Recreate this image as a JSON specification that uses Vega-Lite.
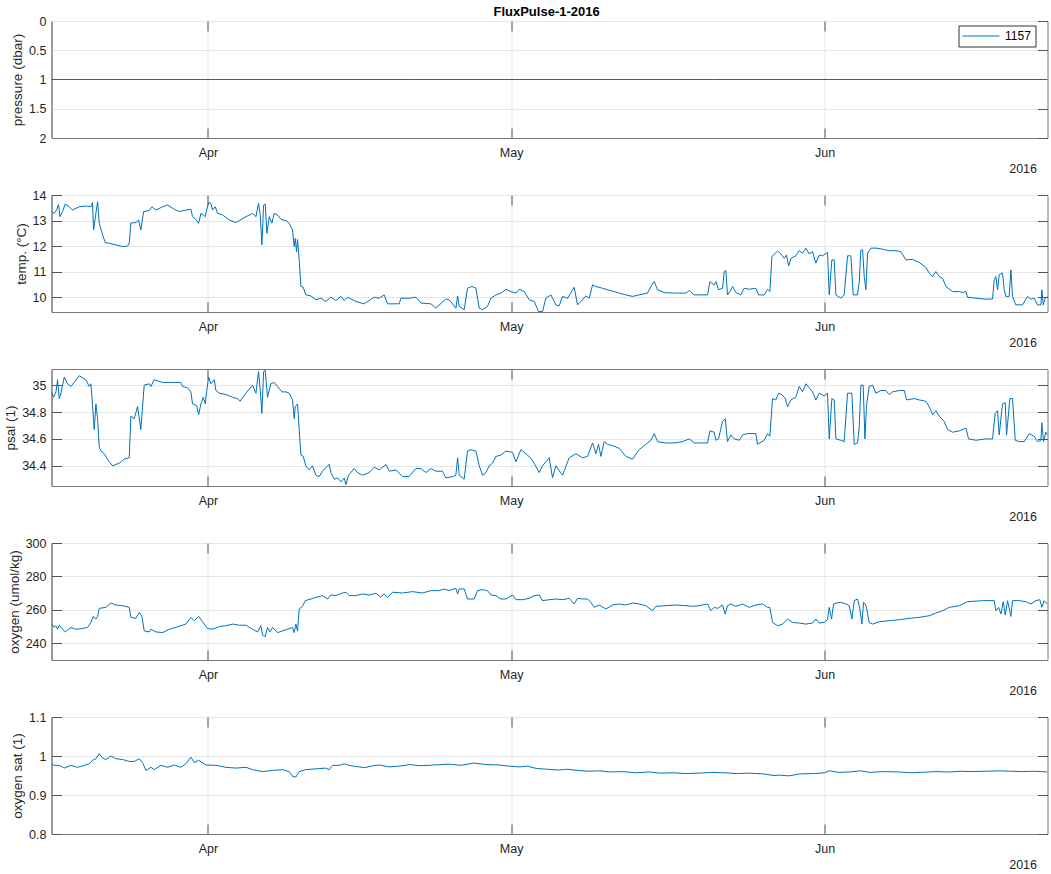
{
  "$schema": "https://vega.github.io/schema/vega-lite/v6.json",
  "background": "white",
  "padding": {"left": 2.5, "top": 5, "right": 3, "bottom": 5},
  "title": {"text": "FluxPulse-1-2016", "anchor": "middle", "fontSize": 13, "fontWeight": "bold", "color": "#000000", "font": "Liberation Sans", "offset": -4, "dx": 20},
  "config": {
    "font": "Liberation Sans",
    "view": {"stroke": "#7a7a7a", "strokeWidth": 1},
    "axis": {"labelFont": "Liberation Sans", "labelFontSize": 12.5, "labelColor": "#262626", "titleFont": "Liberation Sans", "titleFontSize": 13.5, "titleFontWeight": "normal", "titleColor": "#262626", "domainColor": "#7a7a7a", "tickColor": "#555555", "gridColor": "#e6e6e6", "gridOpacity": 1, "tickSize": -10},
    "axisBottom": {"labelPadding": 18, "grid": true, "titleAnchor": "end", "titleAlign": "right", "titleX": 985, "titleY": 30, "titleBaseline": "middle", "titleFontSize": 12.5},
    "axisLeft": {"labelPadding": 15.5, "grid": true, "titlePadding": 4},
    "axisTop": {"labels": false, "grid": false, "domain": false},
    "axisRight": {"labels": false, "grid": false, "domain": false}
  },
  "datasets": {
    "pres": [
      {"d": -15.47, "v": 1},
      {"d": 20, "v": 1},
      {"d": 50, "v": 1},
      {"d": 83.05, "v": 1}
    ],
    "sensor": [
      {"d": 0, "v": 1, "sensor": "1157"}
    ],
    "temp": [
      {"d": -15.46, "v": 13.35}, {"d": -15.20, "v": 13.28}, {"d": -14.97, "v": 13.41}, {"d": -14.77, "v": 13.63}, {"d": -14.64, "v": 13.15}, {"d": -14.38, "v": 13.35}, {"d": -14.11, "v": 13.65}, {"d": -13.72, "v": 13.54}, {"d": -13.39, "v": 13.41}, {"d": -12.73, "v": 13.54}, {"d": -12.07, "v": 13.57}, {"d": -11.57, "v": 13.54}, {"d": -11.41, "v": 13.70}, {"d": -11.31, "v": 12.63}, {"d": -11.08, "v": 13.28}, {"d": -10.91, "v": 13.74}, {"d": -10.75, "v": 12.90}, {"d": -10.42, "v": 12.44}, {"d": -10.15, "v": 12.14}, {"d": -9.76, "v": 12.11}, {"d": -9.10, "v": 12.05}, {"d": -8.44, "v": 11.98}, {"d": -7.95, "v": 12.00}, {"d": -7.78, "v": 12.11}, {"d": -7.62, "v": 12.90}, {"d": -7.12, "v": 12.92}, {"d": -6.86, "v": 13.02}, {"d": -6.63, "v": 12.63}, {"d": -6.36, "v": 13.35}, {"d": -5.80, "v": 13.39}, {"d": -5.54, "v": 13.54}, {"d": -5.14, "v": 13.41}, {"d": -4.48, "v": 13.54}, {"d": -3.99, "v": 13.61}, {"d": -3.49, "v": 13.48}, {"d": -2.84, "v": 13.35}, {"d": -2.18, "v": 13.41}, {"d": -1.68, "v": 13.44}, {"d": -1.52, "v": 13.15}, {"d": -1.19, "v": 13.05}, {"d": -0.92, "v": 12.89}, {"d": -0.69, "v": 13.28}, {"d": -0.46, "v": 13.22}, {"d": -0.26, "v": 13.15}, {"d": -0.13, "v": 13.41}, {"d": 0.07, "v": 13.70}, {"d": 0.30, "v": 13.67}, {"d": 0.46, "v": 13.41}, {"d": 0.73, "v": 13.54}, {"d": 0.96, "v": 13.28}, {"d": 1.45, "v": 13.22}, {"d": 2.11, "v": 13.02}, {"d": 2.77, "v": 12.92}, {"d": 3.10, "v": 13.00}, {"d": 3.76, "v": 13.15}, {"d": 4.42, "v": 13.28}, {"d": 4.75, "v": 13.15}, {"d": 5.01, "v": 13.67}, {"d": 5.18, "v": 13.22}, {"d": 5.34, "v": 12.05}, {"d": 5.51, "v": 13.60}, {"d": 5.67, "v": 13.65}, {"d": 5.84, "v": 12.50}, {"d": 6.07, "v": 13.15}, {"d": 6.33, "v": 12.90}, {"d": 6.56, "v": 13.28}, {"d": 6.89, "v": 13.22}, {"d": 7.22, "v": 13.05}, {"d": 7.72, "v": 13.00}, {"d": 8.04, "v": 12.89}, {"d": 8.37, "v": 12.63}, {"d": 8.54, "v": 11.98}, {"d": 8.64, "v": 12.30}, {"d": 8.77, "v": 11.78}, {"d": 8.87, "v": 12.26}, {"d": 9.03, "v": 11.46}, {"d": 9.20, "v": 10.42}, {"d": 9.43, "v": 10.39}, {"d": 9.69, "v": 10.09}, {"d": 10.19, "v": 10.05}, {"d": 10.68, "v": 9.90}, {"d": 11.18, "v": 9.96}, {"d": 11.67, "v": 9.83}, {"d": 12.17, "v": 10.00}, {"d": 12.66, "v": 9.87}, {"d": 13.16, "v": 10.03}, {"d": 13.49, "v": 9.87}, {"d": 13.81, "v": 10.00},
      {"d": 14.64, "v": 9.83}, {"d": 15.46, "v": 9.74}, {"d": 16.45, "v": 10.00}, {"d": 16.95, "v": 9.96}, {"d": 17.44, "v": 10.09}, {"d": 17.77, "v": 9.74}, {"d": 18.93, "v": 9.74}, {"d": 19.09, "v": 9.96}, {"d": 19.91, "v": 9.96}, {"d": 20.57, "v": 10.00}, {"d": 21.07, "v": 9.77}, {"d": 22.06, "v": 9.74}, {"d": 22.55, "v": 9.57}, {"d": 23.54, "v": 9.93}, {"d": 23.87, "v": 9.90}, {"d": 24.53, "v": 9.57}, {"d": 24.70, "v": 10.05}, {"d": 24.86, "v": 9.64}, {"d": 25.35, "v": 9.51}, {"d": 25.68, "v": 10.35}, {"d": 26.11, "v": 10.42}, {"d": 26.51, "v": 10.35}, {"d": 26.84, "v": 9.57}, {"d": 27.17, "v": 9.51}, {"d": 27.66, "v": 9.64}, {"d": 27.99, "v": 9.96}, {"d": 28.49, "v": 10.09}, {"d": 28.98, "v": 10.16}, {"d": 29.48, "v": 10.31}, {"d": 29.97, "v": 10.22}, {"d": 30.47, "v": 10.16}, {"d": 30.79, "v": 10.31}, {"d": 31.29, "v": 10.22}, {"d": 31.78, "v": 9.90}, {"d": 32.28, "v": 9.83}, {"d": 32.71, "v": 9.44}, {"d": 33.10, "v": 9.44}, {"d": 33.43, "v": 9.96}, {"d": 33.93, "v": 10.09}, {"d": 34.42, "v": 9.70}, {"d": 34.75, "v": 9.66}, {"d": 35.08, "v": 10.03}, {"d": 35.58, "v": 9.96}, {"d": 35.91, "v": 10.18}, {"d": 36.23, "v": 10.39}, {"d": 36.56, "v": 9.70}, {"d": 36.89, "v": 9.83}, {"d": 37.39, "v": 10.05}, {"d": 37.72, "v": 9.96}, {"d": 38.05, "v": 10.48}, {"d": 38.38, "v": 10.42}, {"d": 39.04, "v": 10.35}, {"d": 39.53, "v": 10.29}, {"d": 40.19, "v": 10.22}, {"d": 40.69, "v": 10.16}, {"d": 41.35, "v": 10.09}, {"d": 42.00, "v": 10.03}, {"d": 42.66, "v": 10.09}, {"d": 43.49, "v": 10.16}, {"d": 43.82, "v": 10.42}, {"d": 44.15, "v": 10.61}, {"d": 44.48, "v": 10.29}, {"d": 45.14, "v": 10.18}, {"d": 45.96, "v": 10.16}, {"d": 46.62, "v": 10.16}, {"d": 47.28, "v": 10.16}, {"d": 47.61, "v": 10.26}, {"d": 48.10, "v": 10.09},
      {"d": 48.60, "v": 10.09}, {"d": 49.42, "v": 10.09}, {"d": 49.66, "v": 10.61}, {"d": 50.08, "v": 10.48}, {"d": 50.25, "v": 10.61}, {"d": 50.51, "v": 10.29}, {"d": 50.91, "v": 10.35}, {"d": 51.07, "v": 11.00}, {"d": 51.24, "v": 11.04}, {"d": 51.40, "v": 10.09}, {"d": 51.73, "v": 10.29}, {"d": 51.90, "v": 10.42}, {"d": 52.23, "v": 10.18}, {"d": 52.72, "v": 10.09}, {"d": 53.05, "v": 10.35}, {"d": 53.55, "v": 10.31}, {"d": 54.20, "v": 10.35}, {"d": 54.47, "v": 10.09}, {"d": 55.03, "v": 10.09}, {"d": 55.36, "v": 10.31}, {"d": 55.59, "v": 10.22}, {"d": 55.79, "v": 11.59}, {"d": 56.35, "v": 11.81}, {"d": 56.68, "v": 11.69}, {"d": 57.01, "v": 11.52}, {"d": 57.24, "v": 11.65}, {"d": 57.44, "v": 11.22}, {"d": 57.67, "v": 11.52}, {"d": 58.16, "v": 11.62}, {"d": 58.49, "v": 11.82}, {"d": 58.82, "v": 11.72}, {"d": 59.15, "v": 11.92}, {"d": 59.48, "v": 11.69}, {"d": 59.81, "v": 11.78}, {"d": 60.14, "v": 11.33}, {"d": 60.47, "v": 11.65}, {"d": 60.80, "v": 11.62}, {"d": 61.29, "v": 11.75}, {"d": 61.46, "v": 10.09}, {"d": 61.72, "v": 11.46}, {"d": 61.95, "v": 11.46}, {"d": 62.12, "v": 10.09}, {"d": 62.61, "v": 9.96}, {"d": 62.94, "v": 10.09}, {"d": 63.27, "v": 11.62}, {"d": 63.60, "v": 11.62}, {"d": 63.83, "v": 10.09}, {"d": 64.26, "v": 10.09}, {"d": 64.43, "v": 10.61}, {"d": 64.59, "v": 11.85}, {"d": 64.76, "v": 11.85}, {"d": 64.92, "v": 10.81}, {"d": 65.09, "v": 10.29}, {"d": 65.25, "v": 11.72}, {"d": 65.58, "v": 11.92}, {"d": 66.07, "v": 11.92}, {"d": 66.73, "v": 11.88}, {"d": 67.39, "v": 11.82}, {"d": 68.05, "v": 11.82}, {"d": 68.55, "v": 11.78}, {"d": 69.04, "v": 11.46}, {"d": 69.70, "v": 11.48}, {"d": 70.36, "v": 11.36}, {"d": 71.02, "v": 11.17}, {"d": 71.35, "v": 10.94}, {"d": 71.68, "v": 10.81}, {"d": 72.01, "v": 11.00}, {"d": 72.34, "v": 10.81}, {"d": 72.67, "v": 10.74}, {"d": 73.00, "v": 10.42}, {"d": 73.66, "v": 10.22}, {"d": 74.32, "v": 10.22}, {"d": 74.65, "v": 10.18}, {"d": 74.98, "v": 10.22}, {"d": 75.14, "v": 10.00}, {"d": 75.97, "v": 9.96}, {"d": 76.95, "v": 9.92}, {"d": 77.61, "v": 9.93}, {"d": 77.78, "v": 10.68}, {"d": 77.94, "v": 10.81}, {"d": 78.11, "v": 10.29}, {"d": 78.27, "v": 10.88}, {"d": 78.60, "v": 10.94}, {"d": 78.77, "v": 10.29}, {"d": 78.93, "v": 10.03}, {"d": 79.26, "v": 10.03}, {"d": 79.43, "v": 11.07}, {"d": 79.59, "v": 10.03}, {"d": 79.92, "v": 9.70}, {"d": 80.58, "v": 9.70}, {"d": 81.08, "v": 10.03}, {"d": 81.41, "v": 9.92}, {"d": 81.73, "v": 9.96}, {"d": 82.06, "v": 9.70}, {"d": 82.40, "v": 9.70}, {"d": 82.49, "v": 10.29}, {"d": 82.63, "v": 9.70}, {"d": 82.82, "v": 9.96}, {"d": 83.05, "v": 10.03}
    ],
    "psal": [
      {"d": -15.46, "v": 34.95}, {"d": -15.27, "v": 34.91}, {"d": -15.03, "v": 34.95}, {"d": -14.87, "v": 35.04}, {"d": -14.70, "v": 34.90}, {"d": -14.54, "v": 34.94}, {"d": -14.21, "v": 35.06}, {"d": -13.88, "v": 35.01}, {"d": -13.55, "v": 34.99}, {"d": -12.73, "v": 35.07}, {"d": -12.07, "v": 35.04}, {"d": -11.74, "v": 34.99}, {"d": -11.57, "v": 35.01}, {"d": -11.24, "v": 34.67}, {"d": -11.08, "v": 34.86}, {"d": -10.91, "v": 34.75}, {"d": -10.75, "v": 34.54}, {"d": -10.58, "v": 34.51}, {"d": -10.25, "v": 34.49}, {"d": -9.76, "v": 34.43}, {"d": -9.43, "v": 34.40}, {"d": -8.77, "v": 34.42}, {"d": -8.28, "v": 34.45}, {"d": -7.78, "v": 34.46}, {"d": -7.62, "v": 34.77}, {"d": -7.29, "v": 34.75}, {"d": -6.96, "v": 34.84}, {"d": -6.63, "v": 34.67}, {"d": -6.30, "v": 35.00}, {"d": -5.80, "v": 35.01}, {"d": -5.64, "v": 34.99}, {"d": -5.31, "v": 35.04}, {"d": -4.48, "v": 35.02}, {"d": -3.49, "v": 35.02}, {"d": -2.67, "v": 35.02}, {"d": -2.51, "v": 34.99}, {"d": -2.01, "v": 34.98}, {"d": -1.68, "v": 34.95}, {"d": -1.52, "v": 34.86}, {"d": -1.12, "v": 34.85}, {"d": -0.92, "v": 34.78}, {"d": -0.69, "v": 34.86}, {"d": -0.46, "v": 34.91}, {"d": -0.26, "v": 34.86}, {"d": -0.13, "v": 34.95}, {"d": 0.07, "v": 35.06}, {"d": 0.30, "v": 35.01}, {"d": 0.63, "v": 35.04}, {"d": 0.79, "v": 34.96}, {"d": 1.12, "v": 34.94}, {"d": 1.78, "v": 34.93}, {"d": 2.44, "v": 34.91}, {"d": 2.93, "v": 34.90}, {"d": 3.17, "v": 34.88}, {"d": 3.76, "v": 34.94}, {"d": 4.42, "v": 35.00}, {"d": 4.75, "v": 34.94}, {"d": 5.01, "v": 35.10}, {"d": 5.18, "v": 34.96}, {"d": 5.34, "v": 34.79}, {"d": 5.51, "v": 35.10}, {"d": 5.67, "v": 35.11}, {"d": 5.90, "v": 34.91}, {"d": 6.23, "v": 35.01}, {"d": 6.56, "v": 35.02}, {"d": 6.89, "v": 34.99}, {"d": 7.32, "v": 34.95}, {"d": 7.72, "v": 34.95}, {"d": 8.04, "v": 34.94}, {"d": 8.37, "v": 34.89}, {"d": 8.54, "v": 34.75}, {"d": 8.64, "v": 34.84}, {"d": 8.87, "v": 34.86}, {"d": 9.03, "v": 34.67}, {"d": 9.20, "v": 34.48}, {"d": 9.43, "v": 34.47}, {"d": 9.69, "v": 34.40}, {"d": 10.02, "v": 34.37}, {"d": 10.35, "v": 34.40}, {"d": 10.68, "v": 34.33}, {"d": 11.01, "v": 34.32}, {"d": 11.34, "v": 34.36}, {"d": 11.84, "v": 34.40}, {"d": 12.00, "v": 34.41}, {"d": 12.17, "v": 34.35}, {"d": 12.50, "v": 34.30}, {"d": 12.83, "v": 34.31}, {"d": 13.16, "v": 34.28}, {"d": 13.49, "v": 34.31}, {"d": 13.65, "v": 34.26}, {"d": 13.91, "v": 34.33},
      {"d": 14.47, "v": 34.38}, {"d": 14.80, "v": 34.35}, {"d": 15.30, "v": 34.33}, {"d": 15.96, "v": 34.35}, {"d": 16.45, "v": 34.39}, {"d": 16.95, "v": 34.37}, {"d": 17.61, "v": 34.41}, {"d": 17.94, "v": 34.36}, {"d": 18.60, "v": 34.37}, {"d": 19.26, "v": 34.32}, {"d": 19.91, "v": 34.32}, {"d": 20.57, "v": 34.38}, {"d": 21.07, "v": 34.38}, {"d": 21.56, "v": 34.35}, {"d": 22.06, "v": 34.38}, {"d": 22.55, "v": 34.36}, {"d": 23.21, "v": 34.36}, {"d": 23.54, "v": 34.31}, {"d": 24.20, "v": 34.32}, {"d": 24.53, "v": 34.33}, {"d": 24.70, "v": 34.46}, {"d": 24.86, "v": 34.33}, {"d": 25.35, "v": 34.30}, {"d": 25.68, "v": 34.51}, {"d": 26.01, "v": 34.52}, {"d": 26.51, "v": 34.51}, {"d": 26.84, "v": 34.40}, {"d": 27.17, "v": 34.33}, {"d": 27.50, "v": 34.35}, {"d": 27.83, "v": 34.40}, {"d": 28.16, "v": 34.42}, {"d": 28.49, "v": 34.47}, {"d": 28.98, "v": 34.48}, {"d": 29.48, "v": 34.51}, {"d": 30.14, "v": 34.50}, {"d": 30.47, "v": 34.43}, {"d": 30.96, "v": 34.52}, {"d": 31.62, "v": 34.48}, {"d": 32.11, "v": 34.44}, {"d": 32.77, "v": 34.35}, {"d": 33.10, "v": 34.40}, {"d": 33.76, "v": 34.46}, {"d": 34.09, "v": 34.31}, {"d": 34.42, "v": 34.40}, {"d": 35.08, "v": 34.33}, {"d": 35.74, "v": 34.46}, {"d": 36.40, "v": 34.49}, {"d": 37.06, "v": 34.46}, {"d": 37.55, "v": 34.47}, {"d": 38.05, "v": 34.57}, {"d": 38.38, "v": 34.49}, {"d": 38.64, "v": 34.56}, {"d": 38.87, "v": 34.47}, {"d": 39.20, "v": 34.58}, {"d": 39.53, "v": 34.56}, {"d": 40.03, "v": 34.55}, {"d": 40.69, "v": 34.53}, {"d": 41.35, "v": 34.47}, {"d": 42.00, "v": 34.45}, {"d": 42.66, "v": 34.52}, {"d": 43.32, "v": 34.56}, {"d": 43.82, "v": 34.59}, {"d": 44.15, "v": 34.64}, {"d": 44.48, "v": 34.58}, {"d": 45.30, "v": 34.57}, {"d": 46.13, "v": 34.57}, {"d": 46.95, "v": 34.58}, {"d": 47.61, "v": 34.60}, {"d": 48.10, "v": 34.57},
      {"d": 48.60, "v": 34.57}, {"d": 49.42, "v": 34.57}, {"d": 49.66, "v": 34.66}, {"d": 50.08, "v": 34.65}, {"d": 50.25, "v": 34.59}, {"d": 50.51, "v": 34.60}, {"d": 50.91, "v": 34.73}, {"d": 51.17, "v": 34.75}, {"d": 51.40, "v": 34.58}, {"d": 51.73, "v": 34.63}, {"d": 52.06, "v": 34.60}, {"d": 52.56, "v": 34.59}, {"d": 52.89, "v": 34.63}, {"d": 53.38, "v": 34.64}, {"d": 54.20, "v": 34.64}, {"d": 54.37, "v": 34.56}, {"d": 55.03, "v": 34.59}, {"d": 55.36, "v": 34.64}, {"d": 55.59, "v": 34.62}, {"d": 55.85, "v": 34.90}, {"d": 56.18, "v": 34.89}, {"d": 56.45, "v": 34.94}, {"d": 56.78, "v": 34.93}, {"d": 57.11, "v": 34.90}, {"d": 57.34, "v": 34.84}, {"d": 57.67, "v": 34.89}, {"d": 58.16, "v": 34.91}, {"d": 58.49, "v": 34.99}, {"d": 58.82, "v": 34.95}, {"d": 59.15, "v": 35.01}, {"d": 59.48, "v": 34.98}, {"d": 59.81, "v": 34.95}, {"d": 60.14, "v": 34.89}, {"d": 60.47, "v": 34.94}, {"d": 60.96, "v": 34.92}, {"d": 61.29, "v": 34.94}, {"d": 61.46, "v": 34.60}, {"d": 61.72, "v": 34.90}, {"d": 61.95, "v": 34.89}, {"d": 62.12, "v": 34.60}, {"d": 62.61, "v": 34.59}, {"d": 62.94, "v": 34.58}, {"d": 63.27, "v": 34.94}, {"d": 63.70, "v": 34.94}, {"d": 63.93, "v": 34.56}, {"d": 64.26, "v": 34.57}, {"d": 64.43, "v": 34.69}, {"d": 64.59, "v": 35.00}, {"d": 64.82, "v": 35.00}, {"d": 64.99, "v": 34.60}, {"d": 65.15, "v": 34.85}, {"d": 65.41, "v": 34.99}, {"d": 65.74, "v": 35.00}, {"d": 66.07, "v": 34.94}, {"d": 66.57, "v": 34.96}, {"d": 67.06, "v": 34.96}, {"d": 67.39, "v": 34.93}, {"d": 67.72, "v": 34.95}, {"d": 68.38, "v": 34.96}, {"d": 68.88, "v": 34.96}, {"d": 69.11, "v": 34.89}, {"d": 69.87, "v": 34.90}, {"d": 70.36, "v": 34.89}, {"d": 71.02, "v": 34.88}, {"d": 71.35, "v": 34.84}, {"d": 71.68, "v": 34.78}, {"d": 72.01, "v": 34.81}, {"d": 72.34, "v": 34.77}, {"d": 72.83, "v": 34.73}, {"d": 73.16, "v": 34.67}, {"d": 73.66, "v": 34.65}, {"d": 74.32, "v": 34.66}, {"d": 74.98, "v": 34.68}, {"d": 75.24, "v": 34.60}, {"d": 75.97, "v": 34.59}, {"d": 76.95, "v": 34.60}, {"d": 77.61, "v": 34.60}, {"d": 77.88, "v": 34.79}, {"d": 78.11, "v": 34.81}, {"d": 78.27, "v": 34.63}, {"d": 78.60, "v": 34.86}, {"d": 78.87, "v": 34.87}, {"d": 79.00, "v": 34.63}, {"d": 79.33, "v": 34.90}, {"d": 79.59, "v": 34.90}, {"d": 79.86, "v": 34.59}, {"d": 80.25, "v": 34.58}, {"d": 80.75, "v": 34.58}, {"d": 81.24, "v": 34.64}, {"d": 81.73, "v": 34.62}, {"d": 82.06, "v": 34.58}, {"d": 82.40, "v": 34.59}, {"d": 82.49, "v": 34.72}, {"d": 82.66, "v": 34.58}, {"d": 82.89, "v": 34.65}, {"d": 83.05, "v": 34.63}
    ],
    "oxy": [
      {"d": -15.46, "v": 251.5}, {"d": -15.20, "v": 249.5}, {"d": -15.03, "v": 250.5}, {"d": -14.87, "v": 248.4}, {"d": -14.70, "v": 250.8}, {"d": -14.38, "v": 248.4}, {"d": -14.11, "v": 246.8}, {"d": -13.55, "v": 249.5}, {"d": -13.06, "v": 248.4}, {"d": -12.40, "v": 248.8}, {"d": -11.90, "v": 249.5}, {"d": -11.57, "v": 252.5}, {"d": -11.34, "v": 256.1}, {"d": -11.08, "v": 254.5}, {"d": -10.91, "v": 256.1}, {"d": -10.75, "v": 260.9}, {"d": -10.09, "v": 261.5}, {"d": -9.59, "v": 264.1}, {"d": -9.10, "v": 262.9}, {"d": -8.44, "v": 262.5}, {"d": -7.78, "v": 261.5}, {"d": -7.62, "v": 255.5}, {"d": -7.12, "v": 254.9}, {"d": -6.79, "v": 258.5}, {"d": -6.53, "v": 256.1}, {"d": -6.30, "v": 247.4}, {"d": -5.80, "v": 246.8}, {"d": -5.64, "v": 248.4}, {"d": -5.14, "v": 246.8}, {"d": -4.48, "v": 246.4}, {"d": -3.82, "v": 248.4}, {"d": -3.17, "v": 249.5}, {"d": -2.67, "v": 250.5}, {"d": -2.18, "v": 251.5}, {"d": -1.68, "v": 255.5}, {"d": -1.35, "v": 253.5}, {"d": -0.92, "v": 256.1}, {"d": -0.53, "v": 252.9}, {"d": -0.03, "v": 248.8}, {"d": 0.46, "v": 248.4}, {"d": 1.12, "v": 250.0}, {"d": 1.78, "v": 250.5}, {"d": 2.44, "v": 251.5}, {"d": 3.10, "v": 250.8}, {"d": 3.76, "v": 250.8}, {"d": 4.42, "v": 248.4}, {"d": 4.91, "v": 246.8}, {"d": 5.24, "v": 250.5}, {"d": 5.41, "v": 244.8}, {"d": 5.67, "v": 244.0}, {"d": 5.90, "v": 249.5}, {"d": 6.13, "v": 246.8}, {"d": 6.40, "v": 249.5}, {"d": 6.89, "v": 246.4}, {"d": 7.39, "v": 247.4}, {"d": 7.88, "v": 248.4}, {"d": 8.37, "v": 249.5}, {"d": 8.54, "v": 246.4}, {"d": 8.70, "v": 251.5}, {"d": 8.87, "v": 247.4}, {"d": 9.03, "v": 260.5}, {"d": 9.36, "v": 262.1}, {"d": 9.63, "v": 265.5}, {"d": 10.19, "v": 266.5}, {"d": 10.68, "v": 267.5}, {"d": 11.34, "v": 268.5}, {"d": 11.84, "v": 266.5}, {"d": 12.17, "v": 268.9}, {"d": 12.66, "v": 268.5}, {"d": 13.32, "v": 270.1}, {"d": 13.65, "v": 270.5}, {"d": 13.98, "v": 268.5},
      {"d": 14.64, "v": 268.5}, {"d": 15.30, "v": 269.5}, {"d": 15.96, "v": 268.9}, {"d": 16.62, "v": 269.9}, {"d": 17.11, "v": 267.5}, {"d": 17.44, "v": 269.5}, {"d": 17.77, "v": 267.5}, {"d": 18.27, "v": 270.5}, {"d": 19.26, "v": 270.1}, {"d": 20.24, "v": 270.9}, {"d": 21.23, "v": 270.1}, {"d": 22.06, "v": 271.5}, {"d": 22.88, "v": 271.5}, {"d": 23.38, "v": 272.5}, {"d": 23.87, "v": 271.5}, {"d": 24.53, "v": 272.9}, {"d": 24.70, "v": 269.5}, {"d": 24.86, "v": 272.5}, {"d": 25.35, "v": 272.5}, {"d": 25.68, "v": 266.5}, {"d": 26.34, "v": 266.5}, {"d": 26.67, "v": 271.5}, {"d": 27.17, "v": 272.1}, {"d": 27.66, "v": 271.5}, {"d": 27.99, "v": 268.9}, {"d": 28.49, "v": 268.5}, {"d": 28.98, "v": 266.5}, {"d": 29.48, "v": 266.5}, {"d": 30.14, "v": 268.9}, {"d": 30.47, "v": 266.1}, {"d": 31.12, "v": 266.1}, {"d": 31.78, "v": 266.9}, {"d": 32.28, "v": 268.5}, {"d": 32.77, "v": 268.9}, {"d": 33.10, "v": 265.5}, {"d": 33.76, "v": 266.1}, {"d": 34.42, "v": 266.5}, {"d": 35.08, "v": 266.1}, {"d": 35.74, "v": 266.9}, {"d": 36.23, "v": 263.5}, {"d": 36.56, "v": 266.9}, {"d": 37.06, "v": 266.5}, {"d": 37.55, "v": 266.5}, {"d": 37.88, "v": 264.5}, {"d": 38.21, "v": 261.5}, {"d": 38.71, "v": 262.9}, {"d": 39.37, "v": 260.5}, {"d": 40.03, "v": 262.9}, {"d": 40.69, "v": 263.5}, {"d": 41.35, "v": 262.9}, {"d": 42.00, "v": 264.1}, {"d": 42.66, "v": 263.5}, {"d": 43.32, "v": 262.5}, {"d": 43.98, "v": 259.5}, {"d": 44.31, "v": 262.1}, {"d": 45.30, "v": 262.5}, {"d": 46.29, "v": 262.9}, {"d": 47.28, "v": 262.5}, {"d": 47.94, "v": 262.1},
      {"d": 48.60, "v": 262.5}, {"d": 49.42, "v": 263.5}, {"d": 49.75, "v": 259.5}, {"d": 50.08, "v": 261.5}, {"d": 50.41, "v": 260.9}, {"d": 50.91, "v": 262.9}, {"d": 51.17, "v": 257.5}, {"d": 51.40, "v": 262.5}, {"d": 51.73, "v": 263.5}, {"d": 52.23, "v": 262.1}, {"d": 52.89, "v": 263.5}, {"d": 53.55, "v": 261.5}, {"d": 54.20, "v": 262.9}, {"d": 54.86, "v": 263.5}, {"d": 55.36, "v": 261.5}, {"d": 55.59, "v": 261.5}, {"d": 55.85, "v": 252.5}, {"d": 56.35, "v": 250.5}, {"d": 56.84, "v": 251.5}, {"d": 57.34, "v": 254.5}, {"d": 57.83, "v": 252.5}, {"d": 58.49, "v": 252.1}, {"d": 59.15, "v": 251.5}, {"d": 59.81, "v": 252.1}, {"d": 60.14, "v": 254.5}, {"d": 60.47, "v": 252.1}, {"d": 60.96, "v": 252.5}, {"d": 61.29, "v": 254.1}, {"d": 61.46, "v": 261.5}, {"d": 61.69, "v": 254.5}, {"d": 61.89, "v": 263.5}, {"d": 62.18, "v": 264.1}, {"d": 62.61, "v": 264.5}, {"d": 63.11, "v": 263.5}, {"d": 63.44, "v": 262.5}, {"d": 63.70, "v": 254.5}, {"d": 63.93, "v": 265.5}, {"d": 64.26, "v": 266.5}, {"d": 64.49, "v": 260.5}, {"d": 64.69, "v": 251.5}, {"d": 64.85, "v": 264.5}, {"d": 65.09, "v": 262.9}, {"d": 65.41, "v": 252.5}, {"d": 65.74, "v": 251.5}, {"d": 66.40, "v": 252.9}, {"d": 67.39, "v": 253.5}, {"d": 68.38, "v": 254.1}, {"d": 69.37, "v": 254.9}, {"d": 70.36, "v": 255.5}, {"d": 71.35, "v": 256.5}, {"d": 72.01, "v": 258.1}, {"d": 72.67, "v": 259.5}, {"d": 73.33, "v": 261.5}, {"d": 74.32, "v": 262.5}, {"d": 75.14, "v": 264.9}, {"d": 76.62, "v": 265.5}, {"d": 77.78, "v": 265.5}, {"d": 77.94, "v": 259.5}, {"d": 78.21, "v": 261.5}, {"d": 78.44, "v": 257.5}, {"d": 78.67, "v": 264.9}, {"d": 78.87, "v": 256.9}, {"d": 79.10, "v": 265.5}, {"d": 79.43, "v": 256.1}, {"d": 79.59, "v": 265.5}, {"d": 80.25, "v": 265.5}, {"d": 80.91, "v": 264.9}, {"d": 81.41, "v": 263.5}, {"d": 81.90, "v": 265.5}, {"d": 82.29, "v": 266.1}, {"d": 82.49, "v": 261.5}, {"d": 82.72, "v": 265.5}, {"d": 83.05, "v": 263.5}
    ],
    "sat": [
      {"d": -15.46, "v": 0.980}, {"d": -15.20, "v": 0.976}, {"d": -14.70, "v": 0.976}, {"d": -14.21, "v": 0.969}, {"d": -13.55, "v": 0.976}, {"d": -12.89, "v": 0.971}, {"d": -12.23, "v": 0.976}, {"d": -11.74, "v": 0.980}, {"d": -11.41, "v": 0.989}, {"d": -11.08, "v": 0.993}, {"d": -10.75, "v": 1.006}, {"d": -10.42, "v": 0.995}, {"d": -10.09, "v": 0.991}, {"d": -9.59, "v": 1.000}, {"d": -9.10, "v": 0.993}, {"d": -8.44, "v": 0.991}, {"d": -7.78, "v": 0.986}, {"d": -7.29, "v": 0.986}, {"d": -6.79, "v": 0.993}, {"d": -6.46, "v": 0.983}, {"d": -6.13, "v": 0.963}, {"d": -5.64, "v": 0.971}, {"d": -5.31, "v": 0.965}, {"d": -4.65, "v": 0.976}, {"d": -3.99, "v": 0.971}, {"d": -3.33, "v": 0.977}, {"d": -2.67, "v": 0.971}, {"d": -2.18, "v": 0.980}, {"d": -1.68, "v": 0.997}, {"d": -1.35, "v": 0.983}, {"d": -0.92, "v": 0.989}, {"d": -0.20, "v": 0.977}, {"d": 0.79, "v": 0.976}, {"d": 1.78, "v": 0.971}, {"d": 2.77, "v": 0.969}, {"d": 3.76, "v": 0.971}, {"d": 4.42, "v": 0.965}, {"d": 5.41, "v": 0.960}, {"d": 6.40, "v": 0.963}, {"d": 7.39, "v": 0.965}, {"d": 8.04, "v": 0.960}, {"d": 8.37, "v": 0.948}, {"d": 8.70, "v": 0.946}, {"d": 9.03, "v": 0.960}, {"d": 9.69, "v": 0.965}, {"d": 10.68, "v": 0.967}, {"d": 11.67, "v": 0.969}, {"d": 12.00, "v": 0.965}, {"d": 12.33, "v": 0.976}, {"d": 12.99, "v": 0.976}, {"d": 13.49, "v": 0.980}, {"d": 13.98, "v": 0.976},
      {"d": 14.7, "v": 0.973}, {"d": 15.5, "v": 0.970}, {"d": 16.3, "v": 0.975}, {"d": 17.0, "v": 0.977}, {"d": 17.9, "v": 0.972}, {"d": 18.92, "v": 0.974}, {"d": 20.0, "v": 0.978}, {"d": 21.0, "v": 0.975}, {"d": 22.4, "v": 0.977}, {"d": 23.87, "v": 0.979}, {"d": 25.0, "v": 0.976}, {"d": 26.34, "v": 0.982}, {"d": 27.5, "v": 0.978}, {"d": 28.81, "v": 0.977}, {"d": 29.8, "v": 0.974}, {"d": 30.79, "v": 0.972}, {"d": 31.6, "v": 0.974}, {"d": 32.5, "v": 0.968}, {"d": 33.6, "v": 0.966}, {"d": 34.75, "v": 0.964}, {"d": 35.6, "v": 0.966}, {"d": 36.5, "v": 0.963}, {"d": 37.6, "v": 0.961}, {"d": 38.71, "v": 0.962}, {"d": 39.8, "v": 0.959}, {"d": 41.0, "v": 0.960}, {"d": 42.3, "v": 0.957}, {"d": 43.65, "v": 0.959}, {"d": 44.8, "v": 0.956}, {"d": 46.0, "v": 0.957}, {"d": 47.3, "v": 0.955}, {"d": 48.60, "v": 0.956}, {"d": 49.8, "v": 0.958}, {"d": 51.0, "v": 0.957}, {"d": 52.3, "v": 0.955}, {"d": 53.55, "v": 0.956}, {"d": 55.0, "v": 0.954}, {"d": 56.0, "v": 0.950}, {"d": 56.51, "v": 0.951}, {"d": 57.5, "v": 0.949}, {"d": 58.49, "v": 0.954}, {"d": 60.0, "v": 0.955}, {"d": 61.0, "v": 0.957}, {"d": 61.46, "v": 0.962}, {"d": 62.4, "v": 0.958}, {"d": 63.44, "v": 0.959}, {"d": 64.5, "v": 0.962}, {"d": 65.5, "v": 0.958}, {"d": 66.8, "v": 0.960}, {"d": 68.38, "v": 0.959}, {"d": 69.5, "v": 0.957}, {"d": 70.5, "v": 0.958}, {"d": 72.0, "v": 0.960}, {"d": 73.33, "v": 0.959}, {"d": 74.5, "v": 0.961}, {"d": 75.5, "v": 0.960}, {"d": 77.0, "v": 0.961}, {"d": 78.27, "v": 0.962}, {"d": 79.4, "v": 0.961}, {"d": 80.5, "v": 0.960}, {"d": 81.8, "v": 0.961}, {"d": 83.05, "v": 0.959}
    ]
  },
  "spacing": 57,
  "bounds": "flush",
  "resolve": {"scale": {"color": "independent"}, "legend": {"color": "independent"}},
  "vconcat": [
    {
      "width": 996, "height": 117,
      "layer": [
        {"data": {"name": "pres"},
         "mark": {"type": "line", "strokeWidth": 1, "color": "#0072BD"},
         "encoding": {
           "x": {"field": "d", "type": "quantitative", "scale": {"domain": [-15.47, 83.05], "nice": false, "zero": false}, "axis": {"orient": "bottom", "values": [0, 30, 61], "labelExpr": "datum.value == 0 ? 'Apr' : datum.value == 30 ? 'May' : 'Jun'", "title": "2016"}},
           "y": {"field": "v", "type": "quantitative", "scale": {"domain": [0, 2], "reverse": true, "nice": false, "zero": false}, "axis": {"orient": "left", "values": [0, 0.5, 1, 1.5, 2], "format": "~r", "title": "pressure (dbar)", "ticks": false, "grid": false, "labelPadding": 5.5}}
         }},
        {"data": {"name": "sensor"},
         "mark": {"type": "line", "strokeWidth": 1, "color": "#0072BD"},
         "encoding": {
           "x": {"field": "d", "type": "quantitative", "axis": {"orient": "top", "values": [0, 30, 61], "title": null}},
           "y": {"field": "v", "type": "quantitative", "axis": {"orient": "right", "values": [0, 0.5, 1.5, 2], "title": null, "grid": true}},
           "color": {"field": "sensor", "type": "nominal", "scale": {"range": ["#0072BD"]}, "legend": {"title": null, "orient": "none", "legendX": 907, "legendY": 4.5, "symbolType": "M-3.7,0H3.7", "symbolSize": 100, "symbolStrokeWidth": 1, "symbolStrokeColor": "#0072BD", "symbolOffset": 12, "labelOffset": 18, "strokeColor": "#333333", "fillColor": "white", "padding": 4.5, "labelFontSize": 12, "labelColor": "#000000", "labelFont": "Liberation Sans"}}
         }}
      ],
      "resolve": {"axis": {"x": "independent", "y": "independent"}}
    },
    {
      "width": 996, "height": 117,
      "data": {"name": "temp"},
      "layer": [
        {"mark": {"type": "line", "color": "#0072BD", "strokeWidth": 1, "clip": true},
         "encoding": {
           "x": {"field": "d", "type": "quantitative", "scale": {"domain": [-15.47, 83.05], "nice": false, "zero": false}, "axis": {"orient": "bottom", "values": [0, 30, 61], "labelExpr": "datum.value == 0 ? 'Apr' : datum.value == 30 ? 'May' : 'Jun'", "title": "2016"}},
           "y": {"field": "v", "type": "quantitative", "scale": {"domain": [9.42, 14], "nice": false, "zero": false}, "axis": {"orient": "left", "values": [10, 11, 12, 13, 14], "format": "~r", "title": "temp. (°C)"}}
         }},
        {"mark": {"type": "line", "opacity": 0},
         "encoding": {
           "x": {"field": "d", "type": "quantitative", "axis": {"orient": "top", "values": [0, 30, 61], "title": null}},
           "y": {"field": "v", "type": "quantitative", "axis": {"orient": "right", "values": [10, 11, 12, 13, 14], "title": null}}
         }}
      ],
      "resolve": {"axis": {"x": "independent", "y": "independent"}}
    },
    {
      "width": 996, "height": 117,
      "data": {"name": "psal"},
      "layer": [
        {"mark": {"type": "line", "color": "#0072BD", "strokeWidth": 1, "clip": true},
         "encoding": {
           "x": {"field": "d", "type": "quantitative", "scale": {"domain": [-15.47, 83.05], "nice": false, "zero": false}, "axis": {"orient": "bottom", "values": [0, 30, 61], "labelExpr": "datum.value == 0 ? 'Apr' : datum.value == 30 ? 'May' : 'Jun'", "title": "2016"}},
           "y": {"field": "v", "type": "quantitative", "scale": {"domain": [34.25, 35.12], "nice": false, "zero": false}, "axis": {"orient": "left", "values": [34.4, 34.6, 34.8, 35], "format": "~r", "title": "psal (1)"}}
         }},
        {"mark": {"type": "line", "opacity": 0},
         "encoding": {
           "x": {"field": "d", "type": "quantitative", "axis": {"orient": "top", "values": [0, 30, 61], "title": null}},
           "y": {"field": "v", "type": "quantitative", "axis": {"orient": "right", "values": [34.4, 34.6, 34.8, 35], "title": null}}
         }}
      ],
      "resolve": {"axis": {"x": "independent", "y": "independent"}}
    },
    {
      "width": 996, "height": 117,
      "data": {"name": "oxy"},
      "layer": [
        {"mark": {"type": "line", "color": "#0072BD", "strokeWidth": 1, "clip": true},
         "encoding": {
           "x": {"field": "d", "type": "quantitative", "scale": {"domain": [-15.47, 83.05], "nice": false, "zero": false}, "axis": {"orient": "bottom", "values": [0, 30, 61], "labelExpr": "datum.value == 0 ? 'Apr' : datum.value == 30 ? 'May' : 'Jun'", "title": "2016"}},
           "y": {"field": "v", "type": "quantitative", "scale": {"domain": [230, 300], "nice": false, "zero": false}, "axis": {"orient": "left", "values": [240, 260, 280, 300], "format": "~r", "title": "oxygen (umol/kg)"}}
         }},
        {"mark": {"type": "line", "opacity": 0},
         "encoding": {
           "x": {"field": "d", "type": "quantitative", "axis": {"orient": "top", "values": [0, 30, 61], "title": null}},
           "y": {"field": "v", "type": "quantitative", "axis": {"orient": "right", "values": [240, 260, 280, 300], "title": null}}
         }}
      ],
      "resolve": {"axis": {"x": "independent", "y": "independent"}}
    },
    {
      "width": 996, "height": 117,
      "data": {"name": "sat"},
      "layer": [
        {"mark": {"type": "line", "color": "#0072BD", "strokeWidth": 1, "clip": true},
         "encoding": {
           "x": {"field": "d", "type": "quantitative", "scale": {"domain": [-15.47, 83.05], "nice": false, "zero": false}, "axis": {"orient": "bottom", "values": [0, 30, 61], "labelExpr": "datum.value == 0 ? 'Apr' : datum.value == 30 ? 'May' : 'Jun'", "title": "2016"}},
           "y": {"field": "v", "type": "quantitative", "scale": {"domain": [0.8, 1.1], "nice": false, "zero": false}, "axis": {"orient": "left", "values": [0.8, 0.9, 1, 1.1], "format": "~r", "title": "oxygen sat (1)"}}
         }},
        {"mark": {"type": "line", "opacity": 0},
         "encoding": {
           "x": {"field": "d", "type": "quantitative", "axis": {"orient": "top", "values": [0, 30, 61], "title": null}},
           "y": {"field": "v", "type": "quantitative", "axis": {"orient": "right", "values": [0.8, 0.9, 1, 1.1], "title": null}}
         }}
      ],
      "resolve": {"axis": {"x": "independent", "y": "independent"}}
    }
  ]
}
